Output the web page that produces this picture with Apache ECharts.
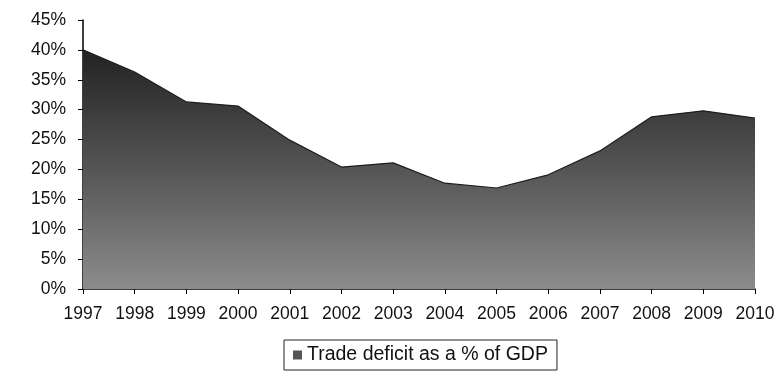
<!DOCTYPE html>
<html>
<head>
<meta charset="utf-8">
<script src="https://cdn.jsdelivr.net/npm/echarts@6/dist/echarts.min.js"></script>
<style>
  html, body { margin: 0; padding: 0; background: #fff; }
  #chart { width: 778px; height: 372px; }
</style>
</head>
<body>
<div id="chart"></div>
<script>
// Trade deficit as a share of GDP, 1997–2010
const years = ['1997','1998','1999','2000','2001','2002','2003','2004','2005','2006','2007','2008','2009','2010'];
const deficitPct = [40.0, 36.3, 31.3, 30.6, 24.9, 20.4, 21.1, 17.7, 16.9, 19.1, 23.1, 28.8, 29.8, 28.6];
const seriesName = 'Trade deficit as a % of GDP';

const chart = echarts.init(document.getElementById('chart'));
const font = 'Liberation Sans, Arial, sans-serif';

chart.setOption({
  animation: false,
  grid: { left: 83, right: 23, top: 20, bottom: 83 },
  xAxis: {
    type: 'category',
    data: years,
    boundaryGap: false,
    axisLine: { lineStyle: { color: '#000', width: 1.5 } },
    axisTick: { show: true, inside: false, length: 5, lineStyle: { color: '#000' } },
    axisLabel: { color: '#111', fontFamily: font, fontSize: 17.5, margin: 16 },
    splitLine: { show: false }
  },
  yAxis: {
    type: 'value',
    min: 0, max: 45, interval: 5,
    axisLine: { show: true, lineStyle: { color: '#000', width: 1.5 } },
    axisTick: { show: true, length: 5, lineStyle: { color: '#000' } },
    axisLabel: { color: '#111', fontFamily: font, fontSize: 17.5, margin: 17, formatter: '{value}%' },
    splitLine: { show: false }
  },
  legend: {
    data: [{ name: seriesName, icon: 'rect' }],
    top: 340,
    left: 284,
    itemWidth: 9, itemHeight: 9, itemGap: 7,
    padding: [5, 9, 5, 9],
    borderColor: '#222', borderWidth: 1,
    textStyle: { color: '#111', fontFamily: font, fontSize: 19.5 }
  },
  series: [{
    name: seriesName,
    type: 'line',
    data: deficitPct,
    symbol: 'none',
    color: '#555',
    lineStyle: { color: '#1e1e1e', width: 1.2 },
    areaStyle: {
      opacity: 1,
      color: new echarts.graphic.LinearGradient(0, 0, 0, 1, [
        { offset: 0, color: '#222222' },
        { offset: 0.5, color: '#555555' },
        { offset: 1, color: '#8c8c8c' }
      ])
    }
  }]
});
</script>
</body>
</html>
